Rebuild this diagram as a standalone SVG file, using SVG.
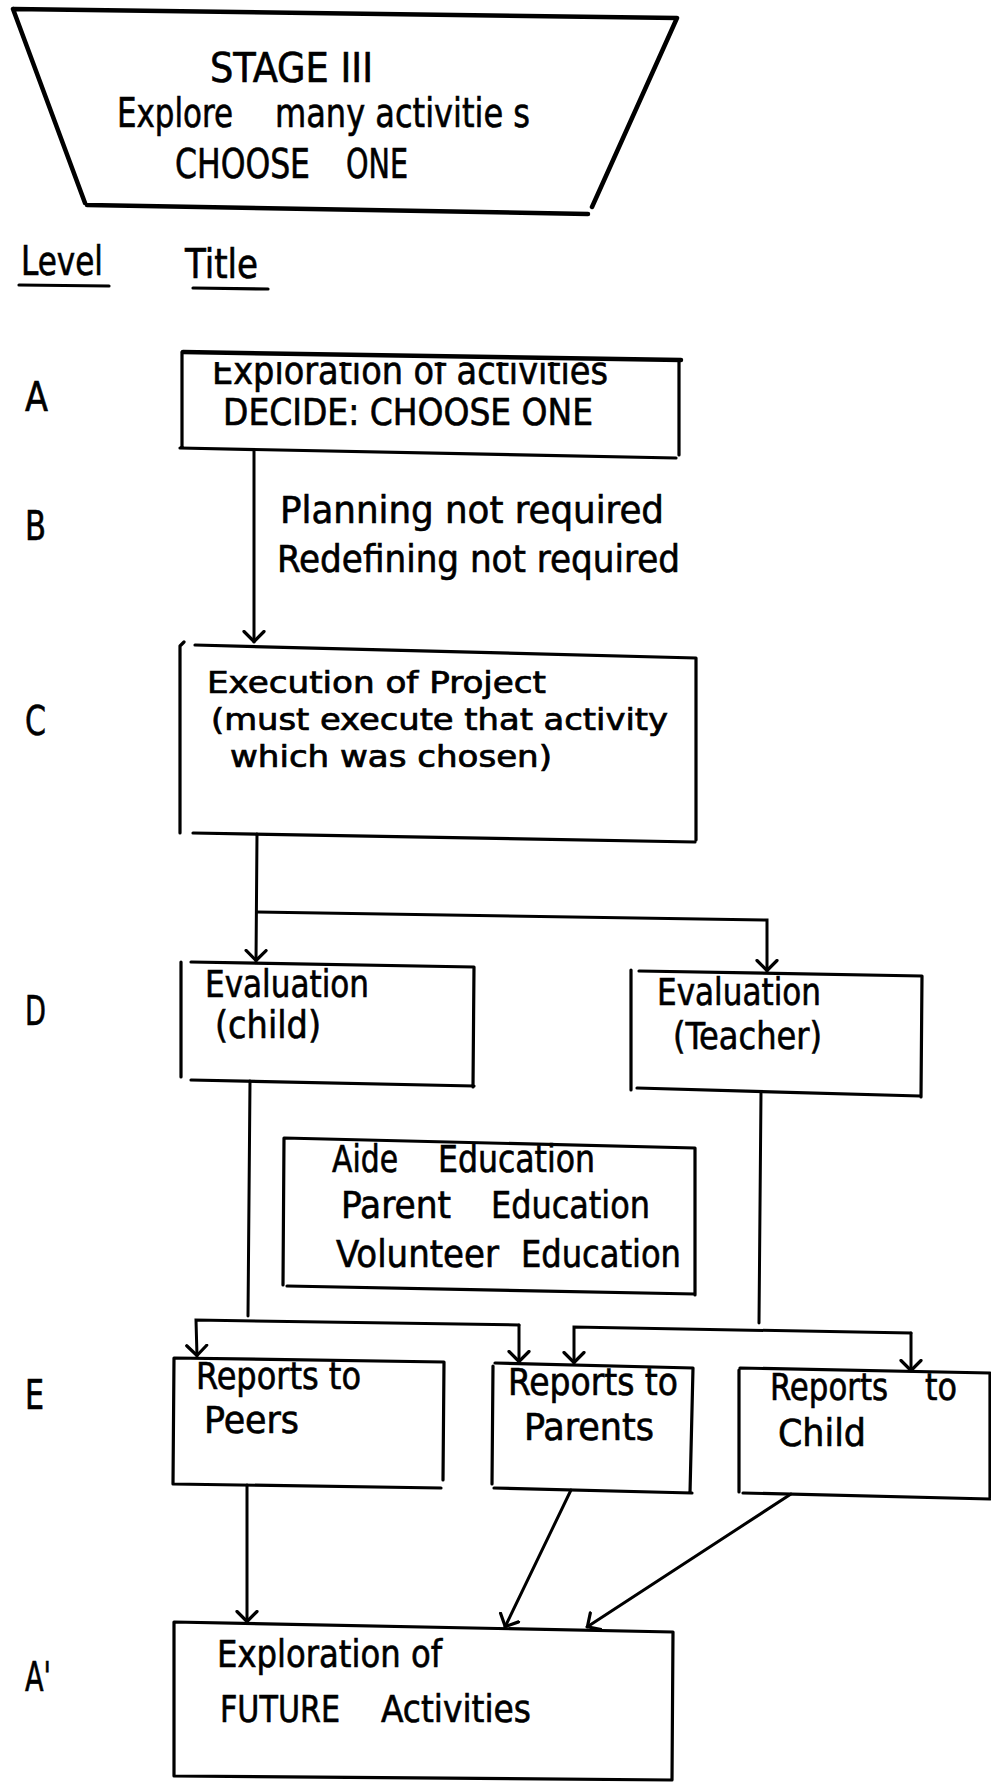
<svg xmlns="http://www.w3.org/2000/svg" width="991" height="1783" viewBox="0 0 991 1783">
  <defs>
    <style>
      .ln { fill: none; stroke: #000; stroke-width: 3.2; stroke-linecap: round; stroke-linejoin: round; }
      .thick { stroke-width: 4.5; }
      .con { fill: none; stroke: #000; stroke-width: 3; stroke-linecap: round; }
      text { font-family: "Liberation Sans Narrow", "DejaVu Sans Condensed", "Liberation Sans", sans-serif; fill: #000; stroke: #000; stroke-width: 0.6; font-size: 37px; }
      .big { font-size: 40px; }
      .mid { font-size: 31px; stroke-width: 0.7; }
    </style>
    <!-- open chevron arrowhead, drawn along +x so orient="auto" follows the line -->
    <marker id="arrow" viewBox="0 0 13 24" refX="12" refY="12" markerWidth="13" markerHeight="24" markerUnits="userSpaceOnUse" orient="auto">
      <path d="M1.5,2 L11.5,12 L1.5,22" fill="none" stroke="#000" stroke-width="3.2" stroke-linecap="round" stroke-linejoin="round"/>
    </marker>
    <clipPath id="clipA">
      <rect x="150" y="362" width="560" height="100"/>
    </clipPath>
  </defs>

  <!-- Stage header -->
  <g id="stage">
    <path class="ln thick" d="M13,9 L677,18 M677,18 L592,207 M588,214 L87,205 M85,203 L13,9"/>
    <text class="big" x="210" y="82" textLength="163" lengthAdjust="spacingAndGlyphs">STAGE III</text>
    <text class="big" x="117" y="127" textLength="116" lengthAdjust="spacingAndGlyphs">Explore</text>
    <text class="big" x="275" y="127" textLength="255" lengthAdjust="spacingAndGlyphs">many activitie s</text>
    <text class="big" x="175" y="178" textLength="135" lengthAdjust="spacingAndGlyphs">CHOOSE</text>
    <text class="big" x="346" y="178" textLength="62" lengthAdjust="spacingAndGlyphs">ONE</text>
  </g>

  <!-- Column headings -->
  <g id="headings">
    <text class="big" x="21" y="275" textLength="82" lengthAdjust="spacingAndGlyphs">Level</text>
    <path class="ln" d="M19,285 L109,286"/>
    <text class="big" x="185" y="278" textLength="73" lengthAdjust="spacingAndGlyphs">Title</text>
    <path class="ln" d="M193,288 L268,289"/>
  </g>

  <!-- Level letters -->
  <g id="levels">
    <text class="big" x="25" y="411" textLength="23" lengthAdjust="spacingAndGlyphs">A</text>
    <text class="big" x="25" y="540" textLength="21" lengthAdjust="spacingAndGlyphs">B</text>
    <text class="big" x="25" y="735" textLength="21" lengthAdjust="spacingAndGlyphs">C</text>
    <text class="big" x="25" y="1025" textLength="21" lengthAdjust="spacingAndGlyphs">D</text>
    <text class="big" x="25" y="1409" textLength="19" lengthAdjust="spacingAndGlyphs">E</text>
    <text class="big" x="25" y="1691" textLength="26" lengthAdjust="spacingAndGlyphs">A'</text>
  </g>

  <!-- Level A -->
  <g id="boxA">
    <text clip-path="url(#clipA)" x="212" y="384" textLength="396" lengthAdjust="spacingAndGlyphs">Exploration of activities</text>
    <text x="223" y="425" textLength="370" lengthAdjust="spacingAndGlyphs">DECIDE: CHOOSE ONE</text>
    <path class="ln thick" d="M183,352 L681,360"/>
    <path class="ln" d="M182,352 L182,447 M180,448 L676,458 M679,360 L679,455"/>
  </g>

  <!-- Level B note -->
  <g id="noteB">
    <text x="280" y="523" textLength="384" lengthAdjust="spacingAndGlyphs">Planning not required</text>
    <text x="277" y="572" textLength="403" lengthAdjust="spacingAndGlyphs">Redefining not required</text>
  </g>

  <!-- Level C -->
  <g id="boxC">
    <path class="ln" d="M184,642 L180,646 L180,833 M195,645 L696,658 L696,840 M193,833 L695,842"/>
    <text class="mid" x="207" y="693" textLength="339" lengthAdjust="spacingAndGlyphs">Execution of Project</text>
    <text class="mid" x="211" y="730" textLength="457" lengthAdjust="spacingAndGlyphs">(must execute that activity</text>
    <text class="mid" x="230" y="767" textLength="322" lengthAdjust="spacingAndGlyphs">which was chosen)</text>
  </g>

  <!-- Level D -->
  <g id="evalChild">
    <path class="ln" d="M181,962 L181,1077 M191,962 L474,967 L473,1087 M191,1080 L474,1086"/>
    <text x="205" y="997" textLength="164" lengthAdjust="spacingAndGlyphs">Evaluation</text>
    <text x="215" y="1038" textLength="106" lengthAdjust="spacingAndGlyphs">(child)</text>
  </g>
  <g id="evalTeacher">
    <path class="ln" d="M631,970 L631,1090 M639,971 L922,976 L921,1097 M637,1088 L920,1096"/>
    <text x="657" y="1005" textLength="164" lengthAdjust="spacingAndGlyphs">Evaluation</text>
    <text x="673" y="1049" textLength="149" lengthAdjust="spacingAndGlyphs">(Teacher)</text>
  </g>

  <!-- Support education -->
  <g id="education">
    <path class="ln" d="M284,1138 L695,1148 L695,1295 M284,1138 L283,1285 M287,1286 L695,1294"/>
    <text x="332" y="1172" textLength="66" lengthAdjust="spacingAndGlyphs">Aide</text>
    <text x="438" y="1172" textLength="157" lengthAdjust="spacingAndGlyphs">Education</text>
    <text x="341" y="1218" textLength="110" lengthAdjust="spacingAndGlyphs">Parent</text>
    <text x="491" y="1218" textLength="159" lengthAdjust="spacingAndGlyphs">Education</text>
    <text x="336" y="1267" textLength="163" lengthAdjust="spacingAndGlyphs">Volunteer</text>
    <text x="521" y="1267" textLength="160" lengthAdjust="spacingAndGlyphs">Education</text>
  </g>

  <!-- Level E -->
  <g id="reportsPeers">
    <path class="ln" d="M174,1358 L444,1362 L443,1480 M174,1358 L173,1484 L441,1488"/>
    <text x="196" y="1389" textLength="165" lengthAdjust="spacingAndGlyphs">Reports to</text>
    <text x="204" y="1433" textLength="95" lengthAdjust="spacingAndGlyphs">Peers</text>
  </g>
  <g id="reportsParents">
    <path class="ln" d="M495,1363 L693,1368 L690,1493 M493,1366 L492,1484 M494,1488 L692,1493"/>
    <text x="508" y="1395" textLength="170" lengthAdjust="spacingAndGlyphs">Reports to</text>
    <text x="524" y="1440" textLength="130" lengthAdjust="spacingAndGlyphs">Parents</text>
  </g>
  <g id="reportsChild">
    <path class="ln" d="M740,1368 L990,1373 L990,1497 M739,1370 L739,1492 M743,1493 L990,1499"/>
    <text x="770" y="1400" textLength="118" lengthAdjust="spacingAndGlyphs">Reports</text>
    <text x="925" y="1400" textLength="32" lengthAdjust="spacingAndGlyphs">to</text>
    <text x="778" y="1446" textLength="88" lengthAdjust="spacingAndGlyphs">Child</text>
  </g>

  <!-- Level A' -->
  <g id="futureExploration">
    <path class="ln" d="M174,1622 L673,1632 L672,1780 M174,1622 L174,1776 L672,1780"/>
    <text x="217" y="1667" textLength="225" lengthAdjust="spacingAndGlyphs">Exploration of</text>
    <text x="220" y="1722" textLength="120" lengthAdjust="spacingAndGlyphs">FUTURE</text>
    <text x="381" y="1722" textLength="150" lengthAdjust="spacingAndGlyphs">Activities</text>
  </g>

  <!-- Connectors -->
  <g id="connectors">
    <path class="con" d="M254,450 L254,642" marker-end="url(#arrow)"/>
    <path class="con" d="M257,834 L256,961" marker-end="url(#arrow)"/>
    <path class="con" d="M257,912 L767,920 L767,971" marker-end="url(#arrow)"/>
    <path class="con" d="M250,1081 L248,1316"/>
    <path class="con" d="M519,1325 L196,1320 L197,1356" marker-end="url(#arrow)"/>
    <path class="con" d="M519,1325 L519,1362" marker-end="url(#arrow)"/>
    <path class="con" d="M761,1092 L759,1323"/>
    <path class="con" d="M911,1333 L574,1327 L574,1363" marker-end="url(#arrow)"/>
    <path class="con" d="M911,1333 L911,1371" marker-end="url(#arrow)"/>
    <path class="con" d="M247,1485 L247,1622" marker-end="url(#arrow)"/>
    <path class="con" d="M571,1490 L505,1627" marker-end="url(#arrow)"/>
    <path class="con" d="M791,1494 L587,1627" marker-end="url(#arrow)"/>
  </g>
</svg>
